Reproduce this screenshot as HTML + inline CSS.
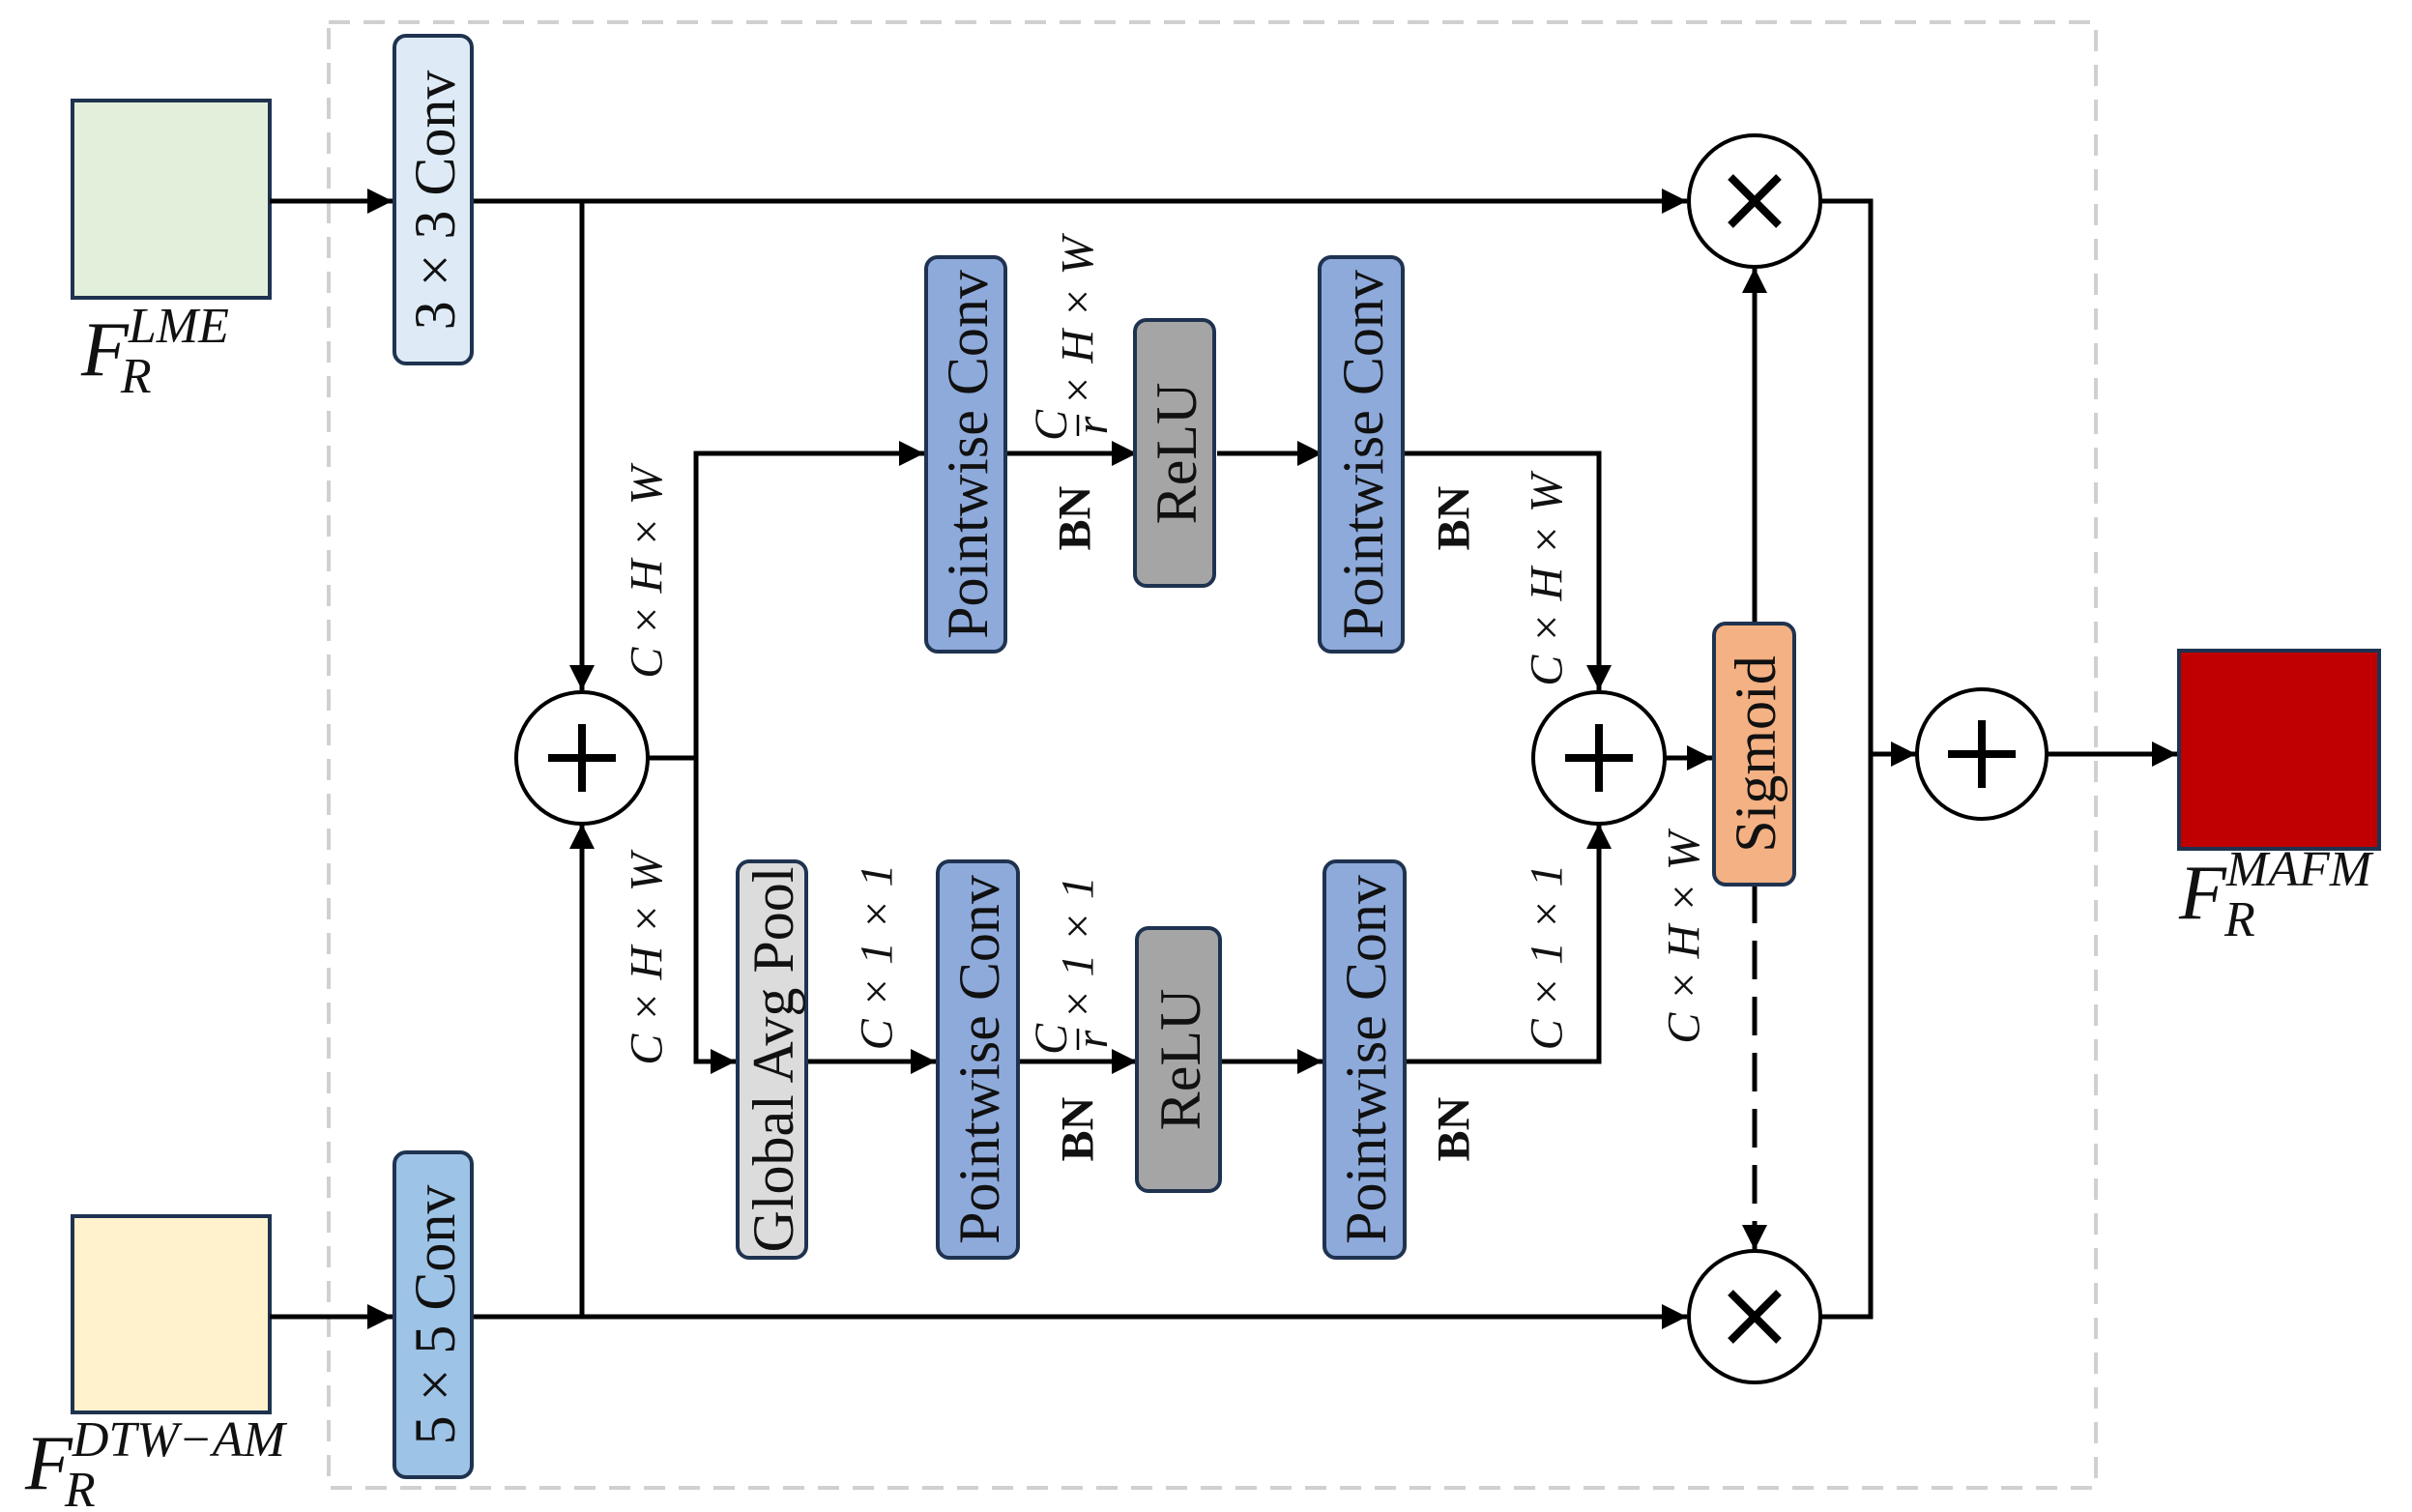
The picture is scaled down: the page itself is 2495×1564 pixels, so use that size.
<!DOCTYPE html>
<html><head><meta charset="utf-8"><style>
html,body{margin:0;padding:0;background:#fff;}
svg{display:block;}
.bx{font-family:"Liberation Serif",serif;font-size:60px;fill:#111;}
.dim{font-family:"Liberation Serif",serif;font-size:48px;font-style:italic;fill:#111;}
.bn{font-family:"Liberation Serif",serif;font-size:48px;font-weight:bold;fill:#111;}
.fl{font-family:"Liberation Serif",serif;font-style:italic;fill:#111;}
</style></head><body>
<svg width="2495" height="1564" viewBox="0 0 2495 1564" xmlns="http://www.w3.org/2000/svg">
<defs>
<marker id="ar" viewBox="0 0 10 10" refX="10" refY="5" markerWidth="28" markerHeight="26" markerUnits="userSpaceOnUse" orient="auto"><path d="M0,0 L10,5 L0,10 z" fill="#000"/></marker>
</defs>
<rect x="340" y="23" width="1828" height="1516" fill="none" stroke="#d0d0d0" stroke-width="4" stroke-dasharray="22,14"/>

<rect x="75" y="104" width="204" height="204" fill="#e2efda" stroke="#1f3350" stroke-width="4"/>
<rect x="75" y="1258" width="204" height="203" fill="#fff2cc" stroke="#1f3350" stroke-width="4"/>
<rect x="2254" y="673" width="207" height="205" fill="#c00000" stroke="#1f3350" stroke-width="4"/>

<text class="fl" x="84" y="388" font-size="80">F<tspan font-size="52" dy="-34">LME</tspan><tspan font-size="52" dx="-112" dy="52">R</tspan></text>
<text class="fl" x="26" y="1540" font-size="80">F<tspan font-size="52" dy="-34">DTW−AM</tspan><tspan font-size="52" dx="-228" dy="52">R</tspan></text>
<text class="fl" x="2254" y="950" font-size="80">F<tspan font-size="52" dy="-34">MAFM</tspan><tspan font-size="52" dx="-152" dy="52">R</tspan></text>

<g stroke="#000" stroke-width="5" fill="none">
<line x1="279" y1="208" x2="406" y2="208" marker-end="url(#ar)"/>
<line x1="279" y1="1362" x2="406" y2="1362" marker-end="url(#ar)"/>
<line x1="488" y1="208" x2="1745" y2="208" marker-end="url(#ar)"/>
<line x1="488" y1="1362" x2="1745" y2="1362" marker-end="url(#ar)"/>
<line x1="602" y1="208" x2="602" y2="714" marker-end="url(#ar)"/>
<line x1="602" y1="1362" x2="602" y2="852" marker-end="url(#ar)"/>
<polyline points="670,784 720,784"/>
<polyline points="720,1098 720,469 956,469" marker-end="url(#ar)"/>
<polyline points="720,784 720,1098 761,1098" marker-end="url(#ar)"/>
<line x1="1040" y1="469" x2="1176" y2="469" marker-end="url(#ar)"/>
<line x1="1259" y1="469" x2="1368" y2="469" marker-end="url(#ar)"/>
<polyline points="1451,469 1654,469 1654,714" marker-end="url(#ar)"/>
<line x1="834" y1="1098" x2="968" y2="1098" marker-end="url(#ar)"/>
<line x1="1053" y1="1098" x2="1176" y2="1098" marker-end="url(#ar)"/>
<line x1="1262" y1="1098" x2="1368" y2="1098" marker-end="url(#ar)"/>
<polyline points="1453,1098 1654,1098 1654,852" marker-end="url(#ar)"/>
<line x1="1722" y1="784" x2="1771" y2="784" marker-end="url(#ar)"/>
<line x1="1815" y1="645" x2="1815" y2="277" marker-end="url(#ar)"/>
<line x1="1815" y1="915" x2="1815" y2="1293" stroke-dasharray="40,18" marker-end="url(#ar)"/>
<polyline points="1883,208 1935,208 1935,1362 1883,1362"/>
<line x1="1935" y1="780" x2="1982" y2="780" marker-end="url(#ar)"/>
<line x1="2118" y1="780" x2="2252" y2="780" marker-end="url(#ar)"/>
</g>

<g stroke="#000" stroke-width="4" fill="#fff">
<circle cx="1815" cy="208" r="68"/>
<circle cx="1815" cy="1362" r="68"/>
<circle cx="602" cy="784" r="68"/>
<circle cx="1654" cy="784" r="68"/>
<circle cx="2050" cy="780" r="67"/>
</g>
<g stroke="#000" stroke-width="8">
<line x1="1790" y1="183" x2="1840" y2="233"/><line x1="1840" y1="183" x2="1790" y2="233"/>
<line x1="1790" y1="1337" x2="1840" y2="1387"/><line x1="1840" y1="1337" x2="1790" y2="1387"/>
<line x1="602" y1="749" x2="602" y2="819"/><line x1="567" y1="784" x2="637" y2="784"/>
<line x1="1654" y1="749" x2="1654" y2="819"/><line x1="1619" y1="784" x2="1689" y2="784"/>
<line x1="2050" y1="745" x2="2050" y2="815"/><line x1="2015" y1="780" x2="2085" y2="780"/>
</g>

<g stroke="#1f3350" stroke-width="4">
<rect x="408" y="37" width="80" height="339" rx="12" fill="#deebf7"/>
<rect x="408" y="1192" width="80" height="336" rx="12" fill="#9dc3e6"/>
<rect x="958" y="266" width="82" height="408" rx="12" fill="#8eaadb"/>
<rect x="1174" y="331" width="82" height="275" rx="12" fill="#a5a5a5"/>
<rect x="1365" y="266" width="86" height="408" rx="12" fill="#8eaadb"/>
<rect x="763" y="891" width="71" height="410" rx="12" fill="#dcdcdc"/>
<rect x="970" y="891" width="83" height="410" rx="12" fill="#8eaadb"/>
<rect x="1176" y="960" width="86" height="272" rx="12" fill="#a5a5a5"/>
<rect x="1370" y="891" width="83" height="410" rx="12" fill="#8eaadb"/>
<rect x="1773" y="645" width="83" height="270" rx="12" fill="#f4b183"/>
</g>
<g class="bx" text-anchor="middle" dominant-baseline="central">
<text transform="translate(450,207) rotate(-90)">3 × 3 Conv</text>
<text transform="translate(450,1360) rotate(-90)">5 × 5 Conv</text>
<text transform="translate(1001,470) rotate(-90)">Pointwise Conv</text>
<text transform="translate(1217,469) rotate(-90)">ReLU</text>
<text transform="translate(1410,470) rotate(-90)">Pointwise Conv</text>
<text transform="translate(800,1096) rotate(-90)">Global Avg Pool</text>
<text transform="translate(1013,1096) rotate(-90)">Pointwise Conv</text>
<text transform="translate(1221,1096) rotate(-90)">ReLU</text>
<text transform="translate(1413,1096) rotate(-90)">Pointwise Conv</text>
<text transform="translate(1816,780) rotate(-90)">Sigmoid</text>
</g>

<g text-anchor="middle" dominant-baseline="central">
<text class="dim" transform="translate(669,592) rotate(-90)">C × H × W</text>
<text class="dim" transform="translate(669,992) rotate(-90)">C × H × W</text>
<text class="dim" transform="translate(1600,600) rotate(-90)">C × H × W</text>
<text class="dim" transform="translate(1742,970) rotate(-90)">C × H × W</text>
<text class="dim" transform="translate(907,990) rotate(-90)">C × 1 × 1</text>
<text class="dim" transform="translate(1600,990) rotate(-90)">C × 1 × 1</text>
<text class="bn" transform="translate(1112,536) rotate(-90)">BN</text>
<text class="bn" transform="translate(1504,536) rotate(-90)">BN</text>
<text class="bn" transform="translate(1115,1168) rotate(-90)">BN</text>
<text class="bn" transform="translate(1504,1168) rotate(-90)">BN</text>
</g>
<g transform="translate(1115,440) rotate(-90)">
<text class="dim" x="0" y="-12" font-size="40" text-anchor="middle">C</text>
<line x1="-11" y1="0" x2="11" y2="0" stroke="#000" stroke-width="2.5"/>
<text class="dim" x="0" y="30" font-size="40" text-anchor="middle">r</text>
<text class="dim" x="20" y="0" dominant-baseline="central">× H × W</text>
</g>
<g transform="translate(1115,1075) rotate(-90)">
<text class="dim" x="0" y="-12" font-size="40" text-anchor="middle">C</text>
<line x1="-11" y1="0" x2="11" y2="0" stroke="#000" stroke-width="2.5"/>
<text class="dim" x="0" y="30" font-size="40" text-anchor="middle">r</text>
<text class="dim" x="20" y="0" dominant-baseline="central">× 1 × 1</text>
</g>
</svg>
</body></html>
